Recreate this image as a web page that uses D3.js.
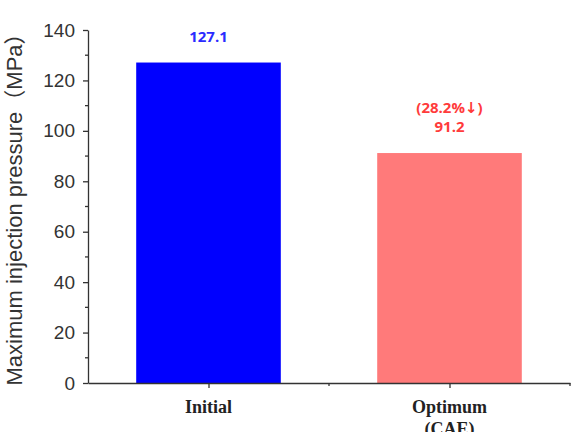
<!DOCTYPE html>
<html>
<head>
<meta charset="utf-8">
<script src="https://cdn.jsdelivr.net/npm/d3@7"></script>
<style>
  body { margin: 0; background: #fff; }
</style>
</head>
<body>
<div id="chart"></div>
<script>
// chart data
var categories = ["Initial", "Optimum"];
var subLabels = ["", "(CAE)"];
var values = [127.1, 91.2];
var valueLabels = ["127.1", "91.2"];
var noteLabels = ["", "(28.2%\u2193)"];
var barColors = ["#0000ff", "#ff7a7a"];
var labelColors = ["#2b2bff", "#ff3b3b"];
var yTicks = [0, 20, 40, 60, 80, 100, 120, 140];

var width = 577,
  height = 432;

var svg = d3.select("#chart").append("svg")
  .attr("width", width)
  .attr("height", height);

// positions of the categories along a numeric x axis (1, 2)
var x = d3.scaleLinear()
  .domain([0.5, 2.5])
  .range([88, 570]);

var y = d3.scaleLinear()
  .domain([0, 140])
  .range([383, 30]);

var barWidth = x(1.3) - x(0.7);

// bars
svg.append("g")
  .selectAll("rect")
  .data(values)
  .enter()
  .append("rect")
  .attr("x", function (d, i) { return x(i + 1) - barWidth / 2; })
  .attr("y", function (d) { return y(d); })
  .attr("width", barWidth)
  .attr("height", function (d) { return y(0) - y(d); })
  .attr("fill", function (d, i) { return barColors[i]; });

// y axis
var yAxis = svg.append("g")
  .attr("transform", "translate(" + x(0.5) + ",0)")
  .call(d3.axisLeft(y).tickValues(yTicks).tickSize(5).tickSizeOuter(0).tickPadding(8));
yAxis.select(".domain").attr("stroke", "#333").attr("stroke-width", 1.3);
yAxis.selectAll(".tick line").attr("stroke", "#333").attr("stroke-width", 1.3);
yAxis.selectAll(".tick text")
  .attr("fill", "#333")
  .style("font-family", "'Liberation Sans', Arial, sans-serif")
  .style("font-size", "19px");

// minor y ticks
svg.append("g")
  .selectAll("line")
  .data(d3.range(10, 140, 20))
  .enter()
  .append("line")
  .attr("x1", x(0.5) - 3)
  .attr("x2", x(0.5))
  .attr("y1", function (d) { return y(d); })
  .attr("y2", function (d) { return y(d); })
  .attr("stroke", "#333")
  .attr("stroke-width", 1.3);

// x axis
var xAxis = svg.append("g")
  .attr("transform", "translate(0," + y(0) + ")")
  .call(d3.axisBottom(x).tickValues([1, 2]).tickFormat("").tickSize(5).tickSizeOuter(0));
xAxis.select(".domain").attr("stroke", "#333").attr("stroke-width", 1.3);
xAxis.selectAll(".tick line").attr("stroke", "#333").attr("stroke-width", 1.3);

// minor x ticks
svg.append("g")
  .selectAll("line")
  .data([1.5, 2.5])
  .enter()
  .append("line")
  .attr("x1", function (d) { return x(d); })
  .attr("x2", function (d) { return x(d); })
  .attr("y1", y(0))
  .attr("y2", y(0) + 3)
  .attr("stroke", "#333")
  .attr("stroke-width", 1.3);

// category labels
svg.append("g")
  .selectAll("text")
  .data(categories)
  .enter()
  .append("text")
  .attr("x", function (d, i) { return x(i + 1); })
  .attr("y", 413)
  .attr("text-anchor", "middle")
  .attr("fill", "#222")
  .style("font-family", "'Liberation Serif', 'Times New Roman', serif")
  .style("font-weight", "bold")
  .style("font-size", "18px")
  .text(function (d) { return d; });

svg.append("g")
  .selectAll("text")
  .data(subLabels)
  .enter()
  .append("text")
  .attr("x", function (d, i) { return x(i + 1); })
  .attr("y", 435)
  .attr("text-anchor", "middle")
  .attr("fill", "#222")
  .style("font-family", "'Liberation Serif', 'Times New Roman', serif")
  .style("font-weight", "bold")
  .style("font-size", "18px")
  .text(function (d) { return d; });

// value labels
svg.append("g")
  .selectAll("text")
  .data(values)
  .enter()
  .append("text")
  .attr("x", function (d, i) { return x(i + 1); })
  .attr("y", function (d) { return y(d) - 21; })
  .attr("text-anchor", "middle")
  .attr("fill", function (d, i) { return labelColors[i]; })
  .style("font-family", "'Open Sans', 'DejaVu Sans', sans-serif")
  .style("font-weight", "bold")
  .style("font-size", "15px")
  .text(function (d, i) { return valueLabels[i]; });

svg.append("g")
  .selectAll("text")
  .data(values)
  .enter()
  .append("text")
  .attr("x", function (d, i) { return x(i + 1); })
  .attr("y", function (d) { return y(d) - 40; })
  .attr("text-anchor", "middle")
  .attr("fill", function (d, i) { return labelColors[i]; })
  .style("font-family", "'Open Sans', 'DejaVu Sans', sans-serif")
  .style("font-weight", "bold")
  .style("font-size", "15px")
  .text(function (d, i) { return noteLabels[i]; });

// y axis title
svg.append("text")
  .attr("transform", "translate(22," + 204 + ") rotate(-90)")
  .attr("text-anchor", "middle")
  .attr("fill", "#333")
  .style("font-family", "'Liberation Sans', Arial, 'Noto Sans CJK SC', sans-serif")
  .style("font-size", "22px")
  .text("Maximum injection pressure\uFF08MPa\uFF09");
</script>
</body>
</html>
